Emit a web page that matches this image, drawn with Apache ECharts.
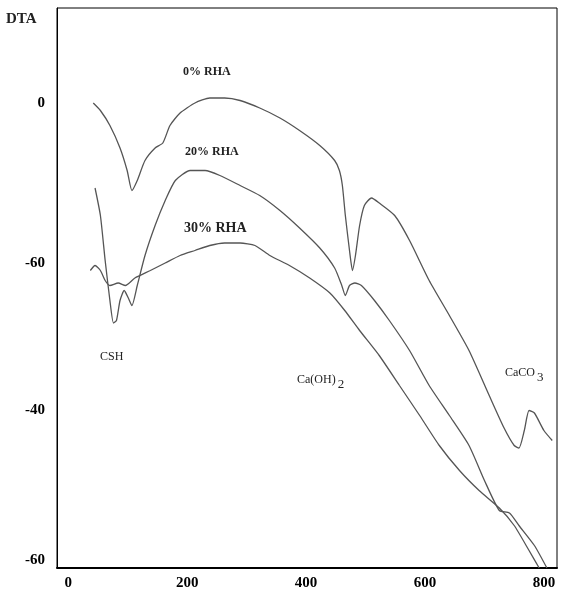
<!DOCTYPE html>
<html>
<head>
<meta charset="utf-8">
<script src="https://cdn.jsdelivr.net/npm/echarts@6/dist/echarts.min.js"></script>
<style>html,body{margin:0;padding:0;background:#fff}#chart{width:566px;height:596px}</style>
</head>
<body>
<div id="chart"></div>
<script>
// temperature (°C) vs DTA signal
const rha0X = [42,54,70,87,99,107,116,129,146,159,171,188,213,238,263,289,322,356,389,423,448,456,461,466,473,478,483,490,498,510,523,549,574,607,641,674,708,733,750,758,767,775,784,800,814];
const rha0Y = [0,-3,-9,-18,-27,-35,-31,-23,-18,-16,-9,-4,0,2,2,1,-2,-6,-11,-17,-23,-27,-33,-45,-59,-67,-61,-49,-41,-38,-40,-45,-55,-71,-85,-99,-117,-130,-137,-138,-131,-123,-124,-131,-135];
const rha20X = [45,54,62,70,76,81,87,94,101,107,116,129,146,163,180,205,230,255,289,322,356,389,423,448,460,466,473,482,493,515,540,574,607,641,674,700,725,742,758,784,805];
const rha20Y = [-34,-45,-63,-79,-88,-87,-79,-75,-78,-81,-73,-61,-49,-39,-31,-27,-27,-29,-33,-37,-43,-50,-58,-66,-73,-77,-73,-72,-73,-79,-87,-99,-113,-125,-137,-151,-163,-164,-169,-177,-186];
const rha30X = [37,45,54,62,70,84,96,112,138,163,188,213,238,263,289,314,339,372,406,440,465,490,523,557,591,624,658,691,725,750,775,792];
const rha30Y = [-67,-65,-67,-71,-73,-72,-73,-70,-67,-64,-61,-59,-57,-56,-56,-57,-61,-65,-70,-76,-83,-91,-101,-113,-125,-137,-147,-155,-162,-169,-179,-186];
const xTicks = [0,200,400,600,800];
const yTickPos = [0,-64,-123,-183];
const yTickLabels = ['0','-60','-40','-60'];

const zip = (xs, ys) => xs.map((x, i) => [x, ys[i]]);
const font = 'Liberation Serif';
const lineSeries = (name, xs, ys) => ({
	name: name, type: 'line', data: zip(xs, ys), showSymbol: false, smooth: 0.2,
	lineStyle: { color: '#555', width: 1.3 }, silent: true
});
const note = (text, left, top, size, bold) => ({
	type: 'text', left: left, top: top,
	style: {
		text: text, font: (bold ? 'bold ' : '') + size + 'px ' + font, fill: '#222',
		rich: { sub: { fontFamily: font, fontSize: size + 1, fill: '#222', padding: [10, 0, 0, 2] } }
	}
});

const chart = echarts.init(document.getElementById('chart'));
chart.setOption({
	animation: false,
	grid: { left: 57, right: 9, top: 8, bottom: 28, show: true, borderColor: '#000', borderWidth: 1 },
	xAxis: {
		type: 'value', min: -19, max: 822,
		axisLine: { onZero: false, lineStyle: { color: '#000', width: 2 } },
		axisTick: { show: false }, splitLine: { show: false },
		axisLabel: { customValues: xTicks, color: '#000', fontFamily: font, fontWeight: 'bold', fontSize: 15, margin: 8 }
	},
	yAxis: {
		type: 'value', min: -186, max: 38,
		axisLine: { show: true, onZero: false, lineStyle: { color: '#000', width: 1 } },
		axisTick: { show: false }, splitLine: { show: false },
		axisLabel: {
			customValues: yTickPos, color: '#000', fontFamily: font, fontWeight: 'bold', fontSize: 15, margin: 12,
			formatter: v => yTickLabels[yTickPos.indexOf(v)]
		}
	},
	graphic: [
		note('DTA', 6, 12, 15, true),
		note('0% RHA', 183, 66, 12, true),
		note('20% RHA', 185, 146, 12, true),
		note('30% RHA', 184, 221, 14, true),
		note('CSH', 100, 351, 12, false),
		note('Ca(OH){sub|2}', 297, 374, 12, false),
		note('CaCO{sub|3}', 505, 367, 12, false)
	],
	series: [
		lineSeries('0% RHA', rha0X, rha0Y),
		lineSeries('20% RHA', rha20X, rha20Y),
		lineSeries('30% RHA', rha30X, rha30Y)
	]
});
</script>
</body>
</html>
